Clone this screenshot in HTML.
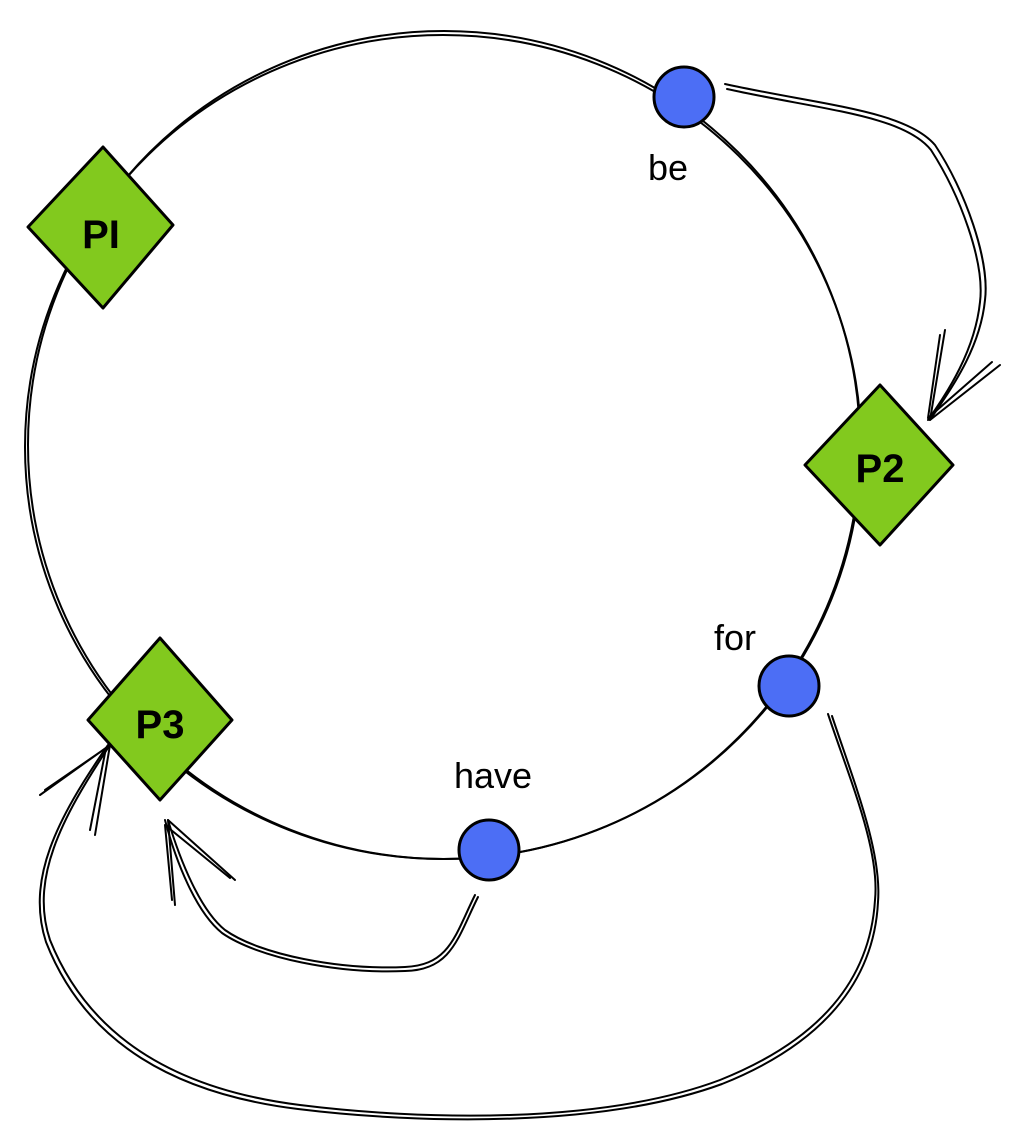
<!DOCTYPE html>
<html><head><style>body{margin:0;background:#fff}svg{display:block}</style></head><body>
<svg width="1016" height="1147" viewBox="0 0 1016 1147" xmlns="http://www.w3.org/2000/svg">
<g fill="none" stroke="#000" stroke-width="2" stroke-linecap="round">
<ellipse cx="443" cy="447" rx="418" ry="412"/>
<ellipse cx="444" cy="445" rx="416" ry="414"/>
<!-- be -> P2 -->
<path d="M725 84 C820 105 905 110 935 145 C965 190 990 260 985 300 C980 350 950 390 930 420"/>
<path d="M727 89 C822 110 903 115 931 150 C960 195 985 262 980 302 C975 350 948 392 928 420"/>
<path d="M930 420 L945 330 M930 420 L1000 365 M928 418 L940 335 M928 418 L992 362"/>
<!-- for -> P3 -->
<path d="M828 714 C850 780 880 850 875 900 C870 980 820 1040 720 1080 C600 1125 420 1120 300 1105 C180 1090 90 1040 50 940 C30 880 60 820 110 745"/>
<path d="M832 716 C854 782 882 852 878 902 C874 982 822 1044 722 1084 C602 1128 420 1124 298 1109 C176 1094 86 1044 46 942 C26 880 56 820 108 745"/>
<path d="M110 745 L40 795 M110 745 L95 835 M106 748 L45 790 M106 748 L90 830"/>
<!-- have -> P3 -->
<path d="M475 895 C455 935 450 965 405 967 C340 970 260 955 225 930 C200 910 180 860 168 820"/>
<path d="M478 897 C458 937 452 970 405 971 C338 974 258 958 222 933 C196 912 176 862 165 820"/>
<path d="M168 820 L175 905 M168 820 L235 880 M165 825 L172 900 M165 825 L230 878"/>
</g>
<g stroke="#000" stroke-width="3" stroke-linejoin="round">
<polygon points="103,147 173,225 103,308 28,227" fill="#82c91e"/>
<polygon points="880,385 953,465 880,545 805,465" fill="#82c91e"/>
<polygon points="160,638 232,720 160,800 88,720" fill="#82c91e"/>
<circle cx="684" cy="97" r="30" fill="#4c6ef5"/>
<circle cx="789" cy="686" r="30" fill="#4c6ef5"/>
<circle cx="489" cy="850" r="30" fill="#4c6ef5"/>
</g>
<g font-family="'Liberation Sans',sans-serif" font-size="40" text-anchor="middle" fill="#000">
<text x="101" y="248" font-weight="bold">PI</text>
<text x="880" y="482" font-weight="bold">P2</text>
<text x="160" y="738" font-weight="bold">P3</text>
<text x="668" y="180" font-size="36">be</text>
<text x="735" y="650" font-size="36">for</text>
<text x="493" y="788" font-size="36">have</text>
</g>
</svg>
</body></html>
